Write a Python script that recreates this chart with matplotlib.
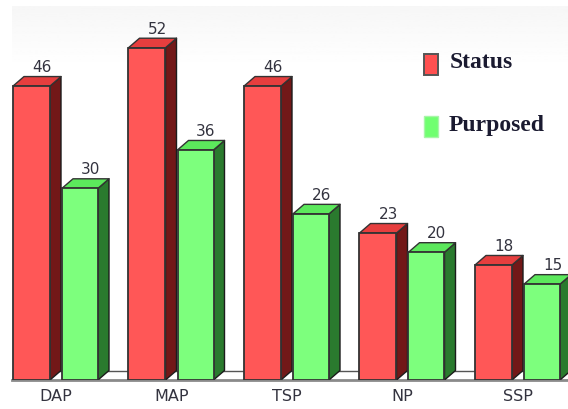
import numpy as np
import matplotlib
matplotlib.use("Agg")
import matplotlib.pyplot as plt
from matplotlib.patches import Polygon, Rectangle

categories = ["DAP", "MAP", "TSP", "NP", "SSP"]
status = [46, 52, 46, 23, 18]
purposed = [30, 36, 26, 20, 15]

W, H = 568, 410
BASE = 381          # pixel row of the value 0
X0 = 13             # pixel column of the first bar
GROUP = 115.5       # pixels per category
UNIT = 6.39         # pixels per value unit

fig = plt.figure(figsize=(W / 100, H / 100), dpi=100, facecolor="white")
ax = fig.add_axes([0, (H - BASE) / H, 1, BASE / H])
ax.set_xlim(-X0 / GROUP, (W - X0) / GROUP)
ax.set_ylim(0, BASE / UNIT)
ax.patch.set_alpha(0)
for s in ax.spines.values():
    s.set_visible(False)
ax.set_yticks([])

dx = 11 / GROUP     # depth of the 3D effect
dy = 9.5 / UNIT
EDGE = "#333333"


def px_x(p):
    return (p - X0) / GROUP


def px_y(p):
    return (BASE - p) / UNIT


# background gradient
grad = np.linspace(0.965, 1.0, 64).reshape(-1, 1)
ax.imshow(grad, cmap="gray", vmin=0, vmax=1, aspect="auto", origin="upper",
          extent=(px_x(12), px_x(W), px_y(70), px_y(7)), zorder=0)
ax.set_xlim(-X0 / GROUP, (W - X0) / GROUP)
ax.set_ylim(0, BASE / UNIT)

# floor
ax.plot([px_x(22), px_x(W)], [dy, dy], color="#555555", lw=1.0, zorder=1, clip_on=False)
ax.plot([px_x(12), px_x(W)], [0, 0], color="#8a8a8a", lw=2.0, zorder=1, clip_on=False)


def bar3d(left, width, value, front, top, side):
    ax.add_patch(Polygon([(left + width, 0), (left + width + dx, dy),
                          (left + width + dx, value + dy), (left + width, value)],
                         facecolor=side, edgecolor="#1c1c1c", lw=1.0, zorder=3,
                         joinstyle="round", clip_on=True))
    ax.add_patch(Polygon([(left, value), (left + dx, value + dy),
                          (left + width + dx, value + dy), (left + width, value)],
                         facecolor=top, edgecolor="#333333", lw=1.0, zorder=3,
                         joinstyle="round"))
    ax.add_patch(Rectangle((left, 0), width, value, facecolor=front,
                           edgecolor=EDGE, lw=1.3, zorder=4))
    ax.text(left + width / 2 + 10.5 / GROUP, value + 19.5 / UNIT, str(value),
            ha="center", va="center", fontsize=11, color="#33333f",
            family="DejaVu Sans", zorder=5)


RED_W = 37 / GROUP
GRN_W = 36 / GROUP
GRN_OFF = 49 / GROUP
for i in range(len(categories)):
    bar3d(i, RED_W, status[i], "#ff5757", "#e63e3e", "#721818")
    bar3d(i + GRN_OFF, GRN_W, purposed[i], "#7dff7d", "#5ce85c", "#2a7a2e")

ax.set_xticks([i + 43 / GROUP for i in range(len(categories))])
ax.set_xticklabels(categories, fontsize=11.5, color="#33333f", family="DejaVu Sans")
ax.tick_params(axis="x", length=0, pad=6)

# legend
ax.add_patch(Rectangle((px_x(424), px_y(76)), 14 / GROUP, 21 / UNIT, facecolor="#ff5050",
                       edgecolor="#555555", lw=1.4, zorder=4))
ax.add_patch(Rectangle((px_x(424), px_y(138)), 14 / GROUP, 21 / UNIT, facecolor="#70ff70",
                       edgecolor="#a8f5a8", lw=1.0, zorder=4))
legend_kw = dict(family="Liberation Serif", fontweight="bold", fontsize=17,
                 color="#1a1a30", va="center", ha="left", zorder=5)
ax.text(px_x(449.5), px_y(62), "Status", **legend_kw)
ax.text(px_x(449), px_y(125), "Purposed", **legend_kw)

fig.savefig("out.png", dpi=100)
